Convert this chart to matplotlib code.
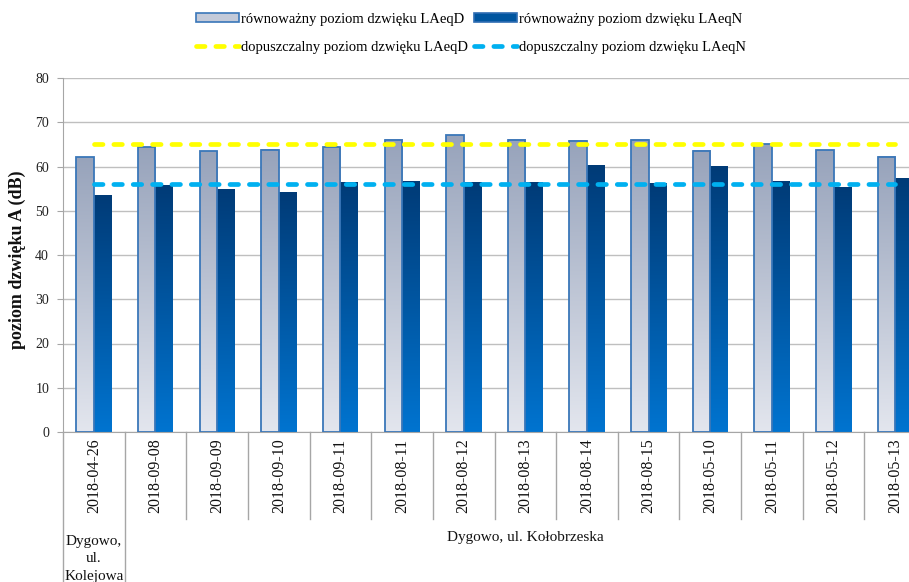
import numpy as np
import matplotlib
matplotlib.use("Agg")
import matplotlib.pyplot as plt
from matplotlib.colors import LinearSegmentedColormap
from matplotlib.patches import Rectangle
from matplotlib.lines import Line2D

plt.rcParams['font.family'] = ['Liberation Serif', 'DejaVu Serif']

dates = ["2018-04-26", "2018-09-08", "2018-09-09", "2018-09-10", "2018-09-11",
         "2018-08-11", "2018-08-12", "2018-08-13", "2018-08-14", "2018-08-15",
         "2018-05-10", "2018-05-11", "2018-05-12", "2018-05-13"]
laeq_d = [62.1, 64.4, 63.4, 63.8, 64.3, 66.0, 67.1, 66.1, 65.8, 66.1, 63.6, 65.0, 63.7, 62.2]
laeq_n = [53.5, 55.6, 54.8, 54.2, 56.3, 56.7, 56.4, 56.4, 60.3, 56.2, 60.1, 56.6, 55.3, 57.2]
limit_d = [65] * len(dates)
limit_n = [56] * len(dates)
groups = ["Dygowo,\nul.\nKolejowa", "Dygowo, ul. Kołobrzeska"]
group_spans = [(0, 0), (1, 13)]

labels = ["równoważny poziom dzwięku LAeqD", "równoważny poziom dzwięku LAeqN",
          "dopuszczalny poziom dzwięku LAeqD", "dopuszczalny poziom dzwięku LAeqN"]
ylabel = "poziom dzwięku A (dB)"

W, H = 909, 582
fig = plt.figure(figsize=(W / 100, H / 100), dpi=100)
ax = fig.add_axes([63 / W, 150 / H, 863 / W, 354 / H])

x = np.arange(len(dates))
bw = 0.284

cmap_d = LinearSegmentedColormap.from_list('d', ['#E3E6EE', '#97A3BB'])
cmap_n = LinearSegmentedColormap.from_list('n', ['#0074D0', '#003B77'])
grad = np.linspace(0, 1, 256).reshape(-1, 1)

for xi, d, n in zip(x, laeq_d, laeq_n):
    ax.imshow(grad, cmap=cmap_d, extent=(xi - bw, xi, 0, d), origin='lower',
              aspect='auto', zorder=2, interpolation='bilinear')
    ax.imshow(grad, cmap=cmap_n, extent=(xi, xi + bw, 0, n), origin='lower',
              aspect='auto', zorder=2, interpolation='bilinear')

ax.bar(x - bw / 2, laeq_d, bw, facecolor='none', edgecolor='#3A77B9', linewidth=1.3, zorder=3)

lw = 3.4
ax.plot(x, limit_d, color='#FFFF00', linewidth=lw, dashes=(1.8, 2.3),
        dash_capstyle='round', zorder=4)
ax.plot(x, limit_n, color='#00B0F0', linewidth=lw, dashes=(1.8, 2.3),
        dash_capstyle='round', zorder=4)

ax.set_xlim(-0.5, len(dates) - 0.5)
ax.set_ylim(0, 80)
ax.set_yticks(np.arange(0, 81, 10))
ax.yaxis.grid(True, color='#BFBFBF', linewidth=1)
ax.set_axisbelow(True)
ax.tick_params(axis='y', length=4, color='#A6A6A6', labelsize=10, labelcolor='#222222', pad=6)
ax.set_xticks([])
for s in ['top', 'right']:
    ax.spines[s].set_visible(False)
for s in ['left', 'bottom']:
    ax.spines[s].set_color('#A6A6A6')

ax_h = 354
def ay(px):
    return (432 - px) / ax_h

trans = ax.get_xaxis_transform()
bounds_group = set()
for a, b in group_spans:
    bounds_group.add(a - 0.5)
    bounds_group.add(b + 0.5)
for i in range(len(dates) + 1):
    bx = i - 0.5
    y_end = ay(582) if bx in bounds_group else ay(519)
    ax.add_line(Line2D([bx, bx], [0, y_end], transform=trans, color='#A6A6A6',
                       linewidth=1, clip_on=False))

for xi, dt in zip(x, dates):
    ax.text(xi, ay(476), dt, rotation=90, ha='center', va='center', transform=trans,
            fontsize=11.5, color='#111111')

for (a, b), g in zip(group_spans, groups):
    cx = (a + b) / 2
    if a == b:
        ax.text(cx, ay(535), g, ha='center', va='top', transform=trans,
                fontsize=11, color='#111111', linespacing=1.45)
    else:
        ax.text(cx, ay(538), g, ha='center', va='center', transform=trans,
                fontsize=11, color='#111111')

fig.text(17 / W, 1 - 260 / H, ylabel, rotation=90, ha='center', va='center',
         fontsize=13, fontweight='bold', color='#111111')

handles = [
    Rectangle((0, 0), 1, 1, facecolor='#C3CAD9', edgecolor='#3A77B9', linewidth=1.2),
    Line2D([], [], color='#FFFF00', linewidth=lw, dashes=(1.8, 2.3), dash_capstyle='round'),
    Rectangle((0, 0), 1, 1, facecolor='#00559F', edgecolor='#2F6DB3', linewidth=1.2),
    Line2D([], [], color='#00B0F0', linewidth=lw, dashes=(1.8, 2.3), dash_capstyle='round'),
]
hl = [labels[0], labels[2], labels[1], labels[3]]
fig.legend(handles, hl, ncol=2, loc='upper left', bbox_to_anchor=(196 / W, 1 - 13 / H),
           frameon=False, fontsize=10.5, handlelength=2.95, handleheight=0.6,
           handletextpad=0.15, columnspacing=0.4, labelspacing=1.0,
           borderpad=0, borderaxespad=0)

fig.savefig("out.png", dpi=100)
